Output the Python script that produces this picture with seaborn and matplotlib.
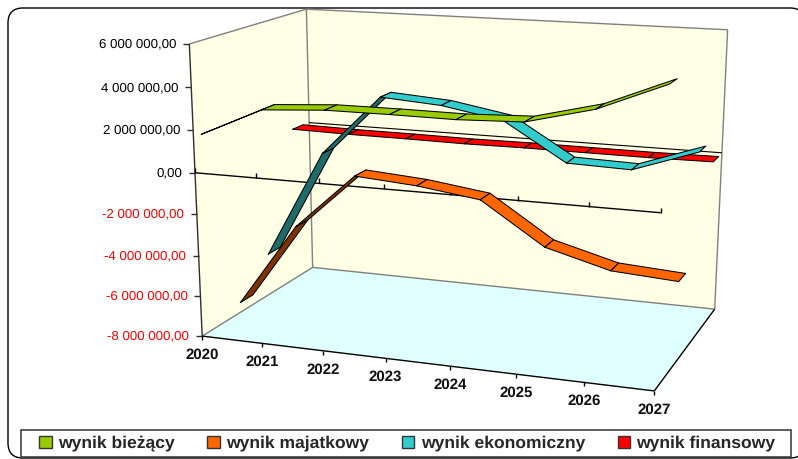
import numpy as np
import pandas as pd
import matplotlib
matplotlib.use("Agg")
import matplotlib.pyplot as plt
from matplotlib.patches import FancyBboxPatch, Patch, Polygon, Rectangle
import seaborn as sns

# dane
lata = ["2020", "2021", "2022", "2023", "2024", "2025", "2026", "2027"]
wynik_biezacy = [1670000, 3030000, 3220000, 3230000, 3210000, 3320000, 4080000, 5350000]
wynik_majatkowy = [-7500000, -3310000, -540000, -760000, -1170000, -3150000, -3970000, -4160000]
wynik_ekonomiczny = [-5850000, -350000, 2680000, 2470000, 1940000, 120000, 40000, 1120000]
wynik_finansowy = [30000, -20000, -30000, -60000, -40000, -50000, -60000, -30000]
nazwy = ["wynik bieżący", "wynik majatkowy", "wynik ekonomiczny", "wynik finansowy"]
os_y = [6000000, 4000000, 2000000, 0, -2000000, -4000000, -6000000, -8000000]

kolory = ["#99CC00", "#FF6600", "#33CCCC", "#FF0000"]
ciemne = ["#4D6600", "#803300", "#1F6B6B", "#800000"]
# polozenie wstegi w glebi wykresu (0 = przod, 1 = tyl)
glebia = [(0.06, 0.17), (0.32, 0.43), (0.58, 0.69), (0.84, 0.94)]

# rzut perspektywiczny: (kategoria 0-1, glebia 0-1, wartosc 0-1) -> piksele
P = np.array([[393.45036, 153.58532, -22.12841, 202.1852],
              [19.78755, -31.8074, -294.3296, 336.10031],
              [-0.08965, 0.13796, -0.04905, 1.0]])
Y_MIN, Y_MAX = min(os_y), max(os_y)


def rzut(kat, gl, wart):
    z = (wart - Y_MIN) / (Y_MAX - Y_MIN)
    h = P @ np.array([kat / (len(lata) - 1), gl, z, 1.0])
    return h[0] / h[2], h[1] / h[2]


def linia(ax, a, b, kolor, lw=1.0, zorder=2):
    ax.plot([a[0], b[0]], [a[1], b[1]], color=kolor, lw=lw, zorder=zorder, solid_capstyle="butt")


sns.set_theme(style="white")
plt.rcParams["font.family"] = ["Liberation Sans", "DejaVu Sans"]
plt.rcParams["text.hinting"] = "none"

fig = plt.figure(figsize=(7.98, 4.59), dpi=100)
ax = fig.add_axes([0, 0, 1, 1])

ax.add_patch(FancyBboxPatch((8, 8), 797, 450, boxstyle="round,pad=0,rounding_size=15",
                            fc="white", ec="black", lw=1.0, zorder=0))

# sciany i podloga
n = len(lata) - 1
sciana = "#FFFFE5"
podloga = "#E0FFFF"
ax.add_patch(Polygon([rzut(0, 0, Y_MIN), rzut(0, 0, Y_MAX), rzut(0, 1, Y_MAX), rzut(0, 1, Y_MIN)], fc=sciana, ec="none", zorder=1))
ax.add_patch(Polygon([rzut(0, 1, Y_MIN), rzut(0, 1, Y_MAX), rzut(n, 1, Y_MAX), rzut(n, 1, Y_MIN)], fc=sciana, ec="none", zorder=1))
ax.add_patch(Polygon([rzut(0, 0, Y_MIN), rzut(n, 0, Y_MIN), rzut(n, 1, Y_MIN), rzut(0, 1, Y_MIN)], fc=podloga, ec="none", zorder=1))

szary = "#808080"
linia(ax, rzut(0, 0, Y_MAX), rzut(0, 1, Y_MAX), szary)
linia(ax, rzut(0, 1, Y_MAX), rzut(n, 1, Y_MAX), szary)
linia(ax, rzut(n, 1, Y_MAX), rzut(n, 1, Y_MIN), szary)
linia(ax, rzut(0, 1, Y_MAX), rzut(0, 1, Y_MIN), szary)
linia(ax, rzut(0, 0, Y_MIN), rzut(0, 1, Y_MIN), szary)
linia(ax, rzut(0, 1, Y_MIN), rzut(n, 1, Y_MIN), szary)
linia(ax, rzut(0, 0, Y_MAX), rzut(0, 0, Y_MIN), "#303030", zorder=3)
linia(ax, rzut(0, 0, Y_MIN), rzut(n, 0, Y_MIN), "black", zorder=3)
linia(ax, rzut(n, 0, Y_MIN), rzut(n, 1, Y_MIN), "black", zorder=3)
# linia zera na tylnej scianie i os kategorii
linia(ax, rzut(0, 1, 0), rzut(n, 1, 0), "black", lw=0.8)
linia(ax, rzut(0, 0, 0), rzut(n, 0, 0), "black", zorder=3)

# os wartosci
for w in os_y:
    x, y = rzut(0, 0, w)
    linia(ax, (x - 6, y), (x, y), "#303030", zorder=3)
    etykieta = f"{w:,.2f}".replace(",", " ").replace(".", ",")
    ax.text(x - 13, y, etykieta, ha="right", va="center", fontsize=9.5,
            color="#FF0000" if w < 0 else "black")

# os kategorii
for i, rok in enumerate(lata):
    x, y = rzut(i, 0, Y_MIN)
    linia(ax, (x, y), (x, y + 4), "black", zorder=3)
    ax.text(x, y + 19, rok, ha="center", va="center", fontsize=10.8, fontweight="bold", color="#111111")
    x, y = rzut(i, 0, 0)
    linia(ax, (x, y), (x, y - 5), "black", zorder=3)

# wstegi rysowane od tylu do przodu
serie = [wynik_biezacy, wynik_majatkowy, wynik_ekonomiczny, wynik_finansowy]
for s in [3, 2, 1, 0]:
    g0, g1 = glebia[s]
    wart = serie[s]
    for i in range(n):
        rogi = [rzut(i, g0, wart[i]), rzut(i, g1, wart[i]), rzut(i + 1, g1, wart[i + 1]), rzut(i + 1, g0, wart[i + 1])]
        df = pd.DataFrame(rogi + rogi[:1], columns=["x", "y"])
        # pole ze znakiem mowi czy widac spod wstegi
        pole = np.sum(df.x.values[:-1] * df.y.values[1:] - df.x.values[1:] * df.y.values[:-1])
        z = 10 + (3 - s) * 10 + i * 0.5
        ax.fill(df.x, df.y, color=kolory[s] if pole > 0 else ciemne[s], lw=0, zorder=z)
        sns.lineplot(data=df, x="x", y="y", sort=False, estimator=None, color="black", lw=0.75, ax=ax, zorder=z + 0.1)

# legenda
ax.add_patch(Rectangle((20.7, 430), 770, 27.2, fc="white", ec="#333333", lw=1.1, zorder=50))
uchwyty = [Patch(fc=k, ec="#333333", lw=1.0) for k in kolory]
ax.legend(uchwyty, nazwy, ncol=4, frameon=False, loc="center left", bbox_to_anchor=(39.3, 443.5),
          bbox_transform=ax.transData, borderpad=0, borderaxespad=0, handlelength=0.71, handleheight=0.7,
          handletextpad=0.36, columnspacing=1.87, prop={"size": 12.6, "weight": "bold"}).set_zorder(51)

ax.set_xlim(0, 798)
ax.set_ylim(459, 0)
ax.axis("off")
fig.savefig("out.png", dpi=100)
